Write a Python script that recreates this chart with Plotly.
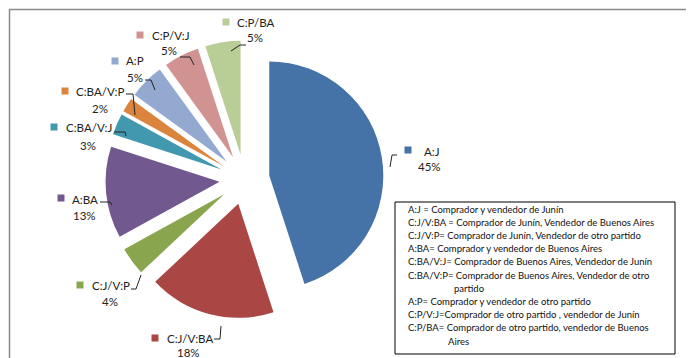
import plotly.graph_objects as go

# ---- data ----
categories = ["A:J", "C:J/V:BA", "C:J/V:P", "A:BA", "C:BA/V:J", "C:BA/V:P", "A:P", "C:P/V:J", "C:P/BA"]
values = [45, 18, 4, 13, 3, 2, 5, 5, 5]
colors = ["#4572A7", "#AA4643", "#89A54E", "#71588F", "#4198AF", "#DB843D", "#93A9CF", "#D19392", "#B9CD96"]
legend_lines = [
    ("A:J = Comprador y vendedor de Junín", 0),
    ("C:J/V:BA = Comprador de Junín, Vendedor de Buenos Aires", 0),
    ("C:J/V:P= Comprador de Junín, Vendedor de otro partido", 0),
    ("A:BA= Comprador y vendedor de Buenos Aires", 0),
    ("C:BA/V:J= Comprador de Buenos Aires, Vendedor de Junín", 0),
    ("C:BA/V:P= Comprador de Buenos Aires, Vendedor de otro", 0),
    ("partido", 46),
    ("A:P= Comprador y vendedor de otro partido", 0),
    ("C:P/V:J=Comprador de otro partido , vendedor de Junín", 0),
    ("C:P/BA= Comprador de otro partido, vendedor de Buenos", 0),
    ("Aires", 40),
]

# ---- layout helpers (pixel positions of label boxes) ----
W, H = 694, 358
def px(x): return x / W
def py(y): return 1 - y / H

# key square (x,y), name left x, name y, pct center x, pct y
label_pos = [
    (400, 142, 414, 143, 421, 159),
    (147, 330, 157, 330, 180, 344),
    (72, 277, 82, 277, 102, 293),
    (53, 190, 62, 191, 76, 207),
    (46, 119, 56, 119, 80, 137),
    (57, 83, 66, 83, 92, 100),
    (107, 53, 116, 53, 127, 70),
    (132, 27, 142, 27, 161, 43),
    (218, 14, 227, 14, 247, 30),
]
leaders = [
    [(382, 159), (384, 147), (389, 147)],
    [(206, 331), (212, 331), (213, 318)],
    [(123, 281), (128, 281), (133, 267)],
    [(92, 194), (102, 194), (104, 197)],
    [(106, 124), (117, 124), (118, 128)],
    [(118, 86), (125, 86), (127, 107)],
    [(137, 72), (143, 72), (147, 82)],
    [(172, 49), (182, 49), (186, 57)],
    [(223, 43), (232, 37), (238, 37)],
]

FONT = "Lato"
pull = 0.22
cx, cy, r = 236.5, 171.5, 114
half = r * (1 + pull)

fig = go.Figure(go.Pie(
    labels=categories, values=values, sort=False, direction="clockwise", rotation=0,
    marker=dict(colors=colors, line=dict(width=0)),
    pull=[pull] * len(values), textinfo="none", hoverinfo="label+percent",
    domain=dict(x=[px(cx - half), px(cx + half)], y=[py(cy + half), py(cy - half)]),
))

shapes = []
annotations = []
# outer border
shapes.append(dict(type="rect", xref="paper", yref="paper", x0=px(1.5), x1=px(692), y0=py(356), y1=py(1.5),
                   line=dict(color="#8a8a8a", width=1.5)))
# legend text box
shapes.append(dict(type="rect", xref="paper", yref="paper", x0=px(387), x1=px(667), y0=py(346), y1=py(194),
                   line=dict(color="black", width=1), fillcolor="white"))

for i, (name, v) in enumerate(zip(categories, values)):
    kx, ky, nx, ny, pcx, pcy = label_pos[i]
    shapes.append(dict(type="rect", xref="paper", yref="paper", x0=px(kx - 3.5), x1=px(kx + 3.5),
                       y0=py(ky + 3.5), y1=py(ky - 3.5), line=dict(width=0), fillcolor=colors[i]))
    annotations.append(dict(x=px(nx), y=py(ny), xref="paper", yref="paper", text=name, showarrow=False,
                            xanchor="left", yanchor="middle", font=dict(family=FONT, size=11.5, color="#222")))
    annotations.append(dict(x=px(pcx), y=py(pcy), xref="paper", yref="paper", text=f"{v}%", showarrow=False,
                            xanchor="center", yanchor="middle", font=dict(family=FONT, size=11.5, color="#222")))
    pts = leaders[i]
    path = "M " + " L ".join(f"{px(x)},{py(y)}" for x, y in pts)
    shapes.append(dict(type="path", xref="paper", yref="paper", path=path, line=dict(color="#222", width=1)))

for j, (txt, indent) in enumerate(legend_lines):
    annotations.append(dict(x=px(398 + indent), y=py(201 + 13.2 * j), xref="paper", yref="paper", text=txt,
                            showarrow=False, xanchor="left", yanchor="middle",
                            font=dict(family=FONT, size=9.5, color="#111")))

fig.update_layout(width=W, height=H, margin=dict(l=0, r=0, t=0, b=0), paper_bgcolor="white",
                  plot_bgcolor="white", showlegend=False, shapes=shapes, annotations=annotations)
fig.write_html("out.html")
